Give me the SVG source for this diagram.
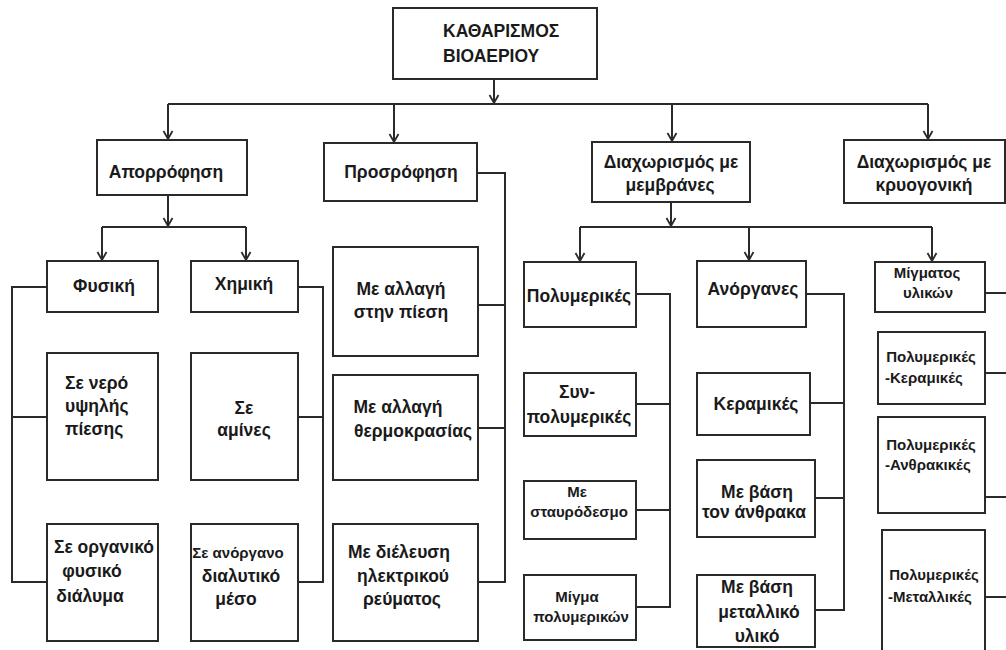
<svg xmlns="http://www.w3.org/2000/svg" width="1006" height="650" viewBox="0 0 1006 650">
<style>
rect.b{fill:#fff;stroke:#2a2a2a;stroke-width:2}
.c path{fill:none;stroke:#2a2a2a;stroke-width:2}
text{font-family:"Liberation Sans",Arial,sans-serif;font-weight:bold;font-size:17.5px;fill:#1a1a1a;text-anchor:middle}
text.s{font-size:15px}
text.l{text-anchor:start}
</style>
<defs>
<marker id="ah" viewBox="-10 -6 12 12" refX="0" refY="0" markerWidth="12" markerHeight="12" markerUnits="userSpaceOnUse" orient="auto">
<path d="M-8,-4.5 L0,0 L-8,4.5" fill="none" stroke="#2a2a2a" stroke-width="1.8"/>
</marker>
</defs>
<rect width="1006" height="650" fill="#fff"/>
<g class="c" id="connectors">
<path d="M494 79 V103" marker-end="url(#ah)"/>
<path d="M168 104 H928"/>
<path d="M168 104 V139" marker-end="url(#ah)"/>
<path d="M394 104 V142" marker-end="url(#ah)"/>
<path d="M672 104 V141" marker-end="url(#ah)"/>
<path d="M928 104 V139" marker-end="url(#ah)"/>
<path d="M168 195 V226" marker-end="url(#ah)"/>
<path d="M102 227 H246"/>
<path d="M102 227 V260" marker-end="url(#ah)"/>
<path d="M246 227 V260" marker-end="url(#ah)"/>
<path d="M47 287 H12 V582 H47 M12 417 H47"/>
<path d="M298 287 H323 V582 H298 M298 417 H323"/>
<path d="M477 173 H505 V582 H478 M478 305 H505 M478 428 H505"/>
<path d="M671 202 V226" marker-end="url(#ah)"/>
<path d="M580 227 H932"/>
<path d="M580 227 V261" marker-end="url(#ah)"/>
<path d="M749 227 V260" marker-end="url(#ah)"/>
<path d="M932 227 V261" marker-end="url(#ah)"/>
<path d="M636 294 H670 V607 H636 M636 404 H670 M636 510 H670"/>
<path d="M806 294 H844 V610 H815 M810 403 H844 M815 498 H844"/>
<path d="M985 293 H1006 M985 373 H1006 M985 497 H1006 M985 597 H1006"/>
</g>
<g id="root"><rect class="b" x="393" y="8" width="204" height="71"/><text class="l" x="443" y="37">ΚΑΘΑΡΙΣΜΟΣ</text><text class="l" x="443" y="62">ΒΙΟΑΕΡΙΟΥ</text></g>
<g id="aporrofisi"><rect class="b" x="97" y="140" width="150" height="55"/><text x="166" y="178">Απορρόφηση</text></g>
<g id="prosrofisi"><rect class="b" x="324" y="143" width="153" height="58"/><text x="401" y="178">Προσρόφηση</text></g>
<g id="membranes"><rect class="b" x="592" y="142" width="158" height="60"/><text x="671" y="168">Διαχωρισμός με</text><text x="670" y="191">μεμβράνες</text></g>
<g id="kryogoniki"><rect class="b" x="844" y="140" width="161" height="63"/><text x="924" y="168">Διαχωρισμός με</text><text x="924" y="191">κρυογονική</text></g>
<g id="fysiki"><rect class="b" x="47" y="261" width="111" height="51"/><text x="104" y="292">Φυσική</text></g>
<g id="ximiki"><rect class="b" x="191" y="261" width="107" height="51"/><text x="244" y="290">Χημική</text></g>
<g id="nero"><rect class="b" x="47" y="353" width="111" height="127"/><text class="l" x="65" y="389">Σε νερό</text><text class="l" x="65" y="412">υψηλής</text><text class="l" x="65" y="435">πίεσης</text></g>
<g id="amines"><rect class="b" x="191" y="353" width="107" height="127"/><text x="244" y="414">Σε</text><text x="244" y="436">αμίνες</text></g>
<g id="organiko"><rect class="b" x="47" y="524" width="111" height="117"/><text x="104" y="553">Σε οργανικό</text><text x="92" y="577">φυσικό</text><text x="90" y="602">διάλυμα</text></g>
<g id="anorgano"><rect class="b" x="191" y="524" width="107" height="117"/><text class="s" x="238" y="558">Σε ανόργανο</text><text x="241" y="582">διαλυτικό</text><text x="236" y="605">μέσο</text></g>
<g id="piesi"><rect class="b" x="333" y="247" width="145" height="109"/><text x="401" y="295">Με αλλαγή</text><text x="401" y="318">στην πίεση</text></g>
<g id="thermokrasia"><rect class="b" x="333" y="375" width="145" height="105"/><text x="398" y="413">Με αλλαγή</text><text x="413" y="437">θερμοκρασίας</text></g>
<g id="dielefsi"><rect class="b" x="333" y="524" width="145" height="117"/><text x="399" y="558">Με διέλευση</text><text x="403" y="582">ηλεκτρικού</text><text x="402" y="605">ρεύματος</text></g>
<g id="polymerikes"><rect class="b" x="524" y="262" width="112" height="65"/><text x="579" y="302">Πολυμερικές</text></g>
<g id="syn"><rect class="b" x="524" y="373" width="112" height="63"/><text x="577" y="398">Συν-</text><text x="579" y="423">πολυμερικές</text></g>
<g id="stavrodesmo"><rect class="b" x="524" y="481" width="112" height="58"/><text class="s" x="577" y="497">Με</text><text class="s" x="579" y="517">σταυρόδεσμο</text></g>
<g id="migma"><rect class="b" x="524" y="575" width="112" height="65"/><text class="s" x="577" y="602">Μίγμα</text><text class="s" x="581" y="622">πολυμερικών</text></g>
<g id="anorganes"><rect class="b" x="697" y="261" width="109" height="66"/><text x="753" y="295">Ανόργανες</text></g>
<g id="keramikes"><rect class="b" x="697" y="373" width="113" height="62"/><text x="756" y="410">Κεραμικές</text></g>
<g id="anthrakas"><rect class="b" x="697" y="460" width="118" height="77"/><text x="757" y="498">Με βάση</text><text x="754" y="518">τον άνθρακα</text></g>
<g id="metalliko"><rect class="b" x="697" y="575" width="118" height="72"/><text x="757" y="593">Με βάση</text><text x="759" y="618">μεταλλικό</text><text x="757" y="642">υλικό</text></g>
<g id="migmatos"><rect class="b" x="875" y="262" width="110" height="50"/><text class="s" x="927" y="278">Μίγματος</text><text class="s" x="928" y="298">υλικών</text></g>
<g id="pol-keram"><rect class="b" x="878" y="332" width="107" height="72"/><text class="s" x="931" y="362">Πολυμερικές</text><text class="s l" x="885" y="383">-Κεραμικές</text></g>
<g id="pol-anthr"><rect class="b" x="878" y="417" width="107" height="96"/><text class="s" x="931" y="450">Πολυμερικές</text><text class="s l" x="885" y="470">-Ανθρακικές</text></g>
<g id="pol-metal"><rect class="b" x="882" y="530" width="103" height="130"/><text class="s" x="934" y="580">Πολυμερικές</text><text class="s l" x="888" y="602">-Μεταλλικές</text></g>
</svg>
